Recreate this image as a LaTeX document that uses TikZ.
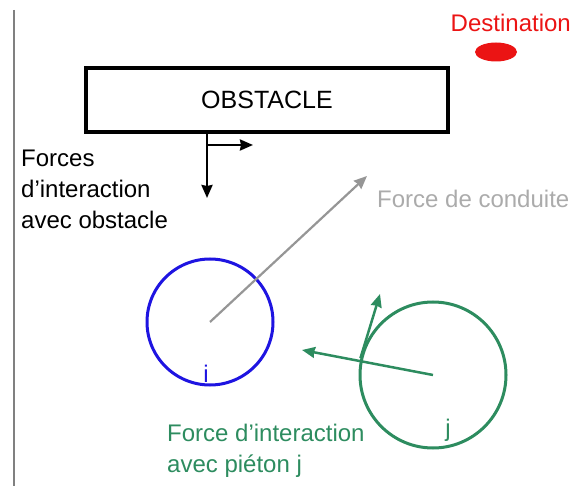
\documentclass[tikz,border=0pt]{standalone}
\usepackage{fontspec}
\usetikzlibrary{arrows.meta}
\setmainfont{Liberation Sans}
\definecolor{pblue}{RGB}{30,20,225}
\definecolor{pgreen}{RGB}{45,140,95}
\definecolor{dred}{RGB}{235,20,20}
\definecolor{cgrey}{RGB}{150,150,150}
\begin{document}
\begin{tikzpicture}[x=1pt, y=-1pt, >={Stealth[length=13pt, width=11pt, inset=1pt]}, font=\fontsize{24}{31}\selectfont,
  ped/.style={circle, line width=3pt, minimum size=#1, inner sep=0pt},
  lbl/.style={inner sep=0pt, align=left}]
		\useasboundingbox (0,0) rectangle (573,486);
		\draw[line width=2pt, gray] (14,10) -- (14,486);
		
		% obstacle et destination
		\node[draw, line width=3.5pt, minimum width=362pt, minimum height=64pt, font=\fontsize{25}{30}\selectfont] (obst) at (267,100) {OBSTACLE};
		\node[dred, lbl, anchor=base east] (dest) at (571,32) {Destination};
		\fill[dred] (496,52) ellipse (21pt and 9.5pt);
		
		% forces de l'obstacle
		\coordinate (o1) at (207,132);
		\coordinate (o2) at (207,198);
		\coordinate (o3) at (207,145);
		\coordinate (o4) at (253,145);
		\draw[->, line width=2.5pt] (o1) -- (o2);
		\draw[->, line width=2.5pt] (o3) -- (o4);
		\node[lbl, anchor=north west] (lobst) at (21,150) {Forces\\d’interaction\\avec obstacle};
		
		% pietons i et j
		\node[ped=126pt, draw=pblue] (pi) at (210,322) {};
		\node[pblue, inner sep=0pt] (li) at (206,374) {i};
		\node[ped=146pt, draw=pgreen] (pj) at (433,375) {};
		\node[pgreen, inner sep=0pt] (lj) at (448,430) {j};
		
		% force de conduite
		\coordinate (cond) at (367,176);
		\draw[->, line width=2.2pt, cgrey] (pi.center) -- (cond);
		\node[cgrey!80, lbl, anchor=base west, font=\fontsize{24}{28}\selectfont] (lcond) at (377,208) {Force de conduite};
		
		% interaction entre pietons
		\coordinate (fij) at (302,350);
		\coordinate (ft) at (380,294);
		\draw[->, line width=2.5pt, pgreen] (pj.center) -- (fij);
		\draw[->, line width=2.5pt, pgreen] (pj.167) -- (ft);
		\node[pgreen, lbl, anchor=north west] (lped) at (167,424) {Force d’interaction\\avec piéton j};
\end{tikzpicture}
\end{document}
